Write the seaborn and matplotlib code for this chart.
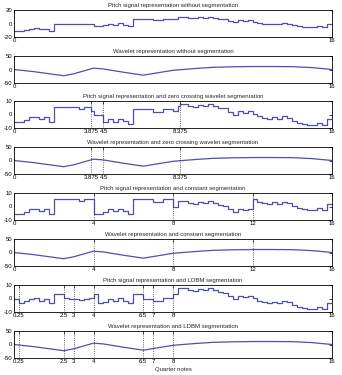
import numpy as np
import pandas as pd
import matplotlib
matplotlib.use("Agg")
import matplotlib.pyplot as plt
import seaborn as sns

# time grid: one pitch value per sixteenth note (quarter-note units)
onsets = np.arange(0, 16, 0.25)

# pitch signal, absolute (as in the unsegmented panel)
pitch = [-11.0, -11.0, -9.6, -7.7, -7.2, -8.7, -7.7, -11.1,
         -0.1, -0.1, -0.1, -0.1, -0.1, -1.1, -0.1, -0.1,
         -3.6, -3.6, -2.1, -0.2, -1.7, 0.3, -1.5, -3.6,
         7.4, 7.4, 7.4, 7.4, 5.7, 5.7, 7.4, 7.4,
         6.0, 10.0, 10.0, 8.5, 7.7, 9.0, 8.5, 10.0,
         8.5, 7.0, 6.5, 3.8, 1.6, 4.5, 3.3, 4.5,
         2.4, 0.7, -0.6, -1.3, 0.0, -1.3, 0.7, -0.6,
         -2.5, -4.2, -4.7, -5.7, -5.7, -4.0, -5.5, -1.3]

# pitch as shown in the LDBM panel
pitch_ldbm = [0.0, -3.0, -1.7, -0.5, 0.7, -1.7, -0.7, -3.5,
              3.7, 3.7, 0.5, 0.0, -0.5, -1.0, 0.0, 0.5,
              3.2, -3.7, -2.5, -0.5, -1.5, 0.5, -1.5, -3.7,
              3.5, 3.5, 0.0, 0.0, -1.5, -1.5, 0.5, 0.5,
              3.7, 7.7, 7.7, 6.2, 5.4, 6.7, 6.2, 7.7,
              6.2, 4.7, 4.2, 1.5, -0.7, 2.2, 1.0, 2.2,
              0.1, -1.6, -2.9, -3.6, -2.3, -3.6, -1.6, -2.9,
              -4.8, -6.5, -7.0, -8.0, -8.0, -6.3, -7.8, -3.6]

# wavelet representation (control points)
wave_t = [0, 0.25, 1, 2, 2.5, 3, 4, 4.5, 5.5, 6.5, 7, 8, 9, 10, 11, 12, 13, 14, 15, 16]
wave_v = [0, -2, -8, -18, -23, -16, 5, 2, -10, -21, -15, -3, 3, 8, 10, 11, 11, 10.5, 7, 0]

# segmentations: boundaries and per-segment level removed from the pitch
zero_bounds = [0, 3.875, 4.5, 8.375, 16]
zero_offsets = [-5.5, -3.0, 3.5, 2.0]
const_bounds = [0, 4, 8, 12, 16]
const_offsets = [-5.5, 2.0, 6.0, -3.0]
ldbm_bounds = [0, 0.25, 2.5, 3, 4, 6.5, 7, 8, 16]

titles = [
    "Pitch signal representation without segmentation",
    "Wavelet representation without segmentation",
    "Pitch signal representation and zero crossing wavelet segmentation",
    "Wavelet representation and zero crossing wavelet segmentation",
    "Pitch signal representation and constant segmentation",
    "Wavelet representation and constant segmentation",
    "Pitch signal representation and LDBM segmentation",
    "Wavelet representation and LDBM segmentation",
]

LINE = "#4f4fb0"


def step_frame(values, bounds, offsets):
    pts = sorted(set(onsets.tolist()) | set(bounds[:-1]))
    rows = []
    for p in pts:
        k = max(i for i in range(len(offsets)) if bounds[i] <= p)
        v = values[int(p // 0.25)] - offsets[k]
        rows.append((p, v))
    rows.append((16, rows[-1][1]))
    return pd.DataFrame(rows, columns=["t", "v"])


sns.set_theme(style="white")
plt.rcParams["font.family"] = ["Liberation Sans", "DejaVu Sans"]
plt.rcParams["axes.unicode_minus"] = False

W, H = 342, 375
fig = plt.figure(figsize=(W / 100, H / 100), dpi=100)
left, right = 14, 332
tops = [10, 56, 101, 147, 193, 239, 285, 331]
height = 27
axes = [fig.add_axes([left / W, 1 - (t + height) / H, (right - left) / W, height / H])
        for t in tops]

wave_df = pd.DataFrame({"t": wave_t, "v": wave_v})
panels = [
    (step_frame(pitch, [0, 16], [0]), True, [0, 16], (-20, 20)),
    (wave_df, False, [0, 16], (-50, 50)),
    (step_frame(pitch, zero_bounds, zero_offsets), True, zero_bounds, (-10, 10)),
    (wave_df, False, zero_bounds, (-50, 50)),
    (step_frame(pitch, const_bounds, const_offsets), True, const_bounds, (-10, 10)),
    (wave_df, False, const_bounds, (-50, 50)),
    (step_frame(pitch_ldbm, [0, 16], [0]), True, ldbm_bounds, (-10, 10)),
    (wave_df, False, ldbm_bounds, (-50, 50)),
]

fs = 4.3
for ax, title, (df, steps, bounds, ylim) in zip(axes, titles, panels):
    sns.lineplot(data=df, x="t", y="v", ax=ax, color=LINE, lw=0.9,
                 drawstyle="steps-post" if steps else "default",
                 estimator=None, sort=False)
    for b in bounds[1:-1]:
        ax.axvline(b, color="#333333", ls=":", lw=0.6)
    ax.set_xlim(0, 16)
    ax.set_ylim(*ylim)
    ax.set_yticks([ylim[0], 0, ylim[1]])
    ax.set_xticks(bounds)
    labels = [f"{b:g}" for b in bounds]
    if 0.25 in bounds:
        # the 0 label sits under "0.25" in the original
        labels[0] = ""
    ax.set_xticklabels(labels)
    ax.set_xlabel("")
    ax.set_ylabel("")
    ax.set_title(title, fontsize=fs, pad=2)
    ax.tick_params(direction="in", length=2, width=0.5, top=True, right=True,
                   labelsize=fs, pad=1, colors="black")
    for s in ax.spines.values():
        s.set_visible(True)
        s.set_color("black")
        s.set_linewidth(0.6)

axes[-1].set_xlabel("Quarter notes", fontsize=fs, labelpad=2)

fig.savefig("out.png", dpi=100)
